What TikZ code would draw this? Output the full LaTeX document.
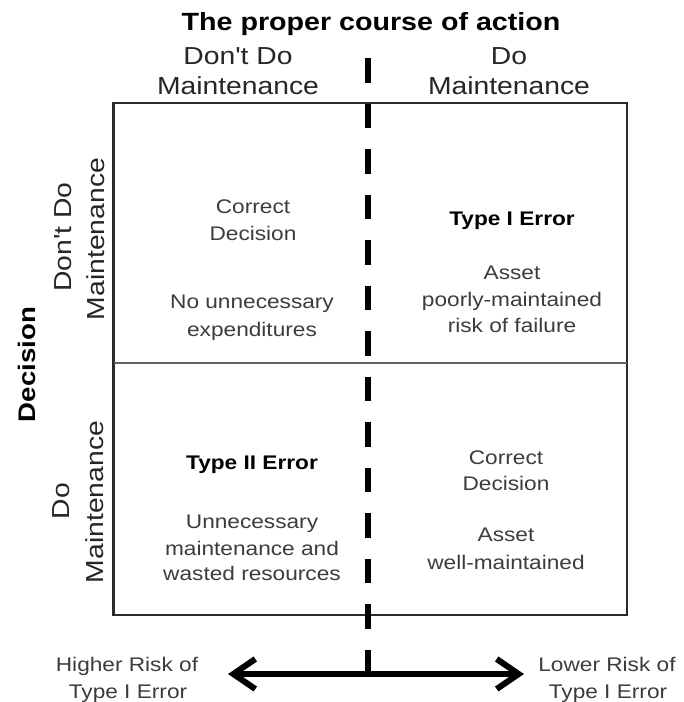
\documentclass[tikz,border=0pt]{standalone}
\usepackage{fontspec}
\setmainfont{Liberation Sans}[FakeStretch=1.15, Ligatures=TeXOff]
\usetikzlibrary{arrows.meta}
\definecolor{txtgray}{HTML}{3C3C3C}
\definecolor{headgray}{HTML}{262626}
\definecolor{linegray}{HTML}{2A2A2A}
\tikzset{
  ln/.style={anchor=base, inner sep=0pt, outer sep=0pt},
  celltext/.style={ln, text=txtgray, font=\fontsize{19.7}{24}\selectfont},
  cellbold/.style={ln, text=black, font=\fontsize{19.7}{24}\selectfont\bfseries},
  headtext/.style={ln, text=headgray, font=\fontsize{24.6}{30}\selectfont},
  sidetext/.style={headtext, rotate=90},
  titletext/.style={ln, text=black, font=\fontsize{24.9}{30}\selectfont\bfseries},
  decitext/.style={ln, text=black, rotate=90, font=\fontsize{24}{30}\selectfont\bfseries},
  risktext/.style={ln, text=txtgray, font=\fontsize{19.7}{24}\selectfont},
  frame/.style={draw=linegray, line width=2.6pt},
  divider/.style={draw=black!62, line width=1.8pt},
  dashline/.style={draw=black, line width=6pt, dash pattern=on 24.5pt off 21pt},
  bigarrow/.style={draw=black, line width=6pt,
    {Straight Barb[length=22pt,width=30pt,line width=6pt]}-{Straight Barb[length=22pt,width=30pt,line width=6pt]}}
}
\begin{document}
\begin{tikzpicture}[x=1pt,y=-1pt]
\useasboundingbox (0,0) rectangle (684,702);
% frame
\coordinate (tl) at (113.5,103);
\coordinate (br) at (627,615);
\coordinate (ml) at (113.5,363);
\coordinate (mr) at (627,363);
\draw[frame] (tl) rectangle (br);
\draw[divider] (ml) -- (mr);
% dashed axis
\coordinate (dtop) at (368,58);
\coordinate (dbot) at (368,674);
\draw[dashline] (dtop) -- (dbot);
% arrow
\coordinate (al) at (228,674);
\coordinate (ar) at (524,674);
\draw[bigarrow] (al) -- (ar);
% title and headers
\node[titletext] (title) at (371,30) {The proper course of action};
\node[headtext] (hl1) at (238,64) {Don't Do};
\node[headtext] (hl2) at (238,94) {Maintenance};
\node[headtext] (hr1) at (509,64) {Do};
\node[headtext] (hr2) at (509,94) {Maintenance};
% side labels
\node[decitext] (dec) at (35,364.5) {Decision};
\node[sidetext] (st1) at (71,237) {Don't Do};
\node[sidetext] (st2) at (104,239) {Maintenance};
\node[sidetext] (sb1) at (69,501) {Do};
\node[sidetext] (sb2) at (103,502) {Maintenance};
% top-left cell
\node[celltext] (a1) at (253,213) {Correct};
\node[celltext] (a2) at (253,240) {Decision};
\node[celltext] (a3) at (252,308) {No unnecessary};
\node[celltext] (a4) at (252,336) {expenditures};
% top-right cell
\node[cellbold] (b1) at (512,225) {Type I Error};
\node[celltext] (b2) at (512,279) {Asset};
\node[celltext] (b3) at (512,306) {poorly-maintained};
\node[celltext] (b4) at (512,332) {risk of failure};
% bottom-left cell
\node[cellbold] (c1) at (252,469) {Type II Error};
\node[celltext] (c2) at (252,528) {Unnecessary};
\node[celltext] (c3) at (252,555) {maintenance and};
\node[celltext] (c4) at (252,580) {wasted resources};
% bottom-right cell
\node[celltext] (d1) at (506,464) {Correct};
\node[celltext] (d2) at (506,490) {Decision};
\node[celltext] (d3) at (506,541) {Asset};
\node[celltext] (d4) at (506,569) {well-maintained};
% risk labels
\node[risktext] (rl1) at (127,671) {Higher Risk of};
\node[risktext] (rl2) at (128,698) {Type I Error};
\node[risktext] (rr1) at (607,671) {Lower Risk of};
\node[risktext] (rr2) at (608,698) {Type I Error};
\end{tikzpicture}
\end{document}
